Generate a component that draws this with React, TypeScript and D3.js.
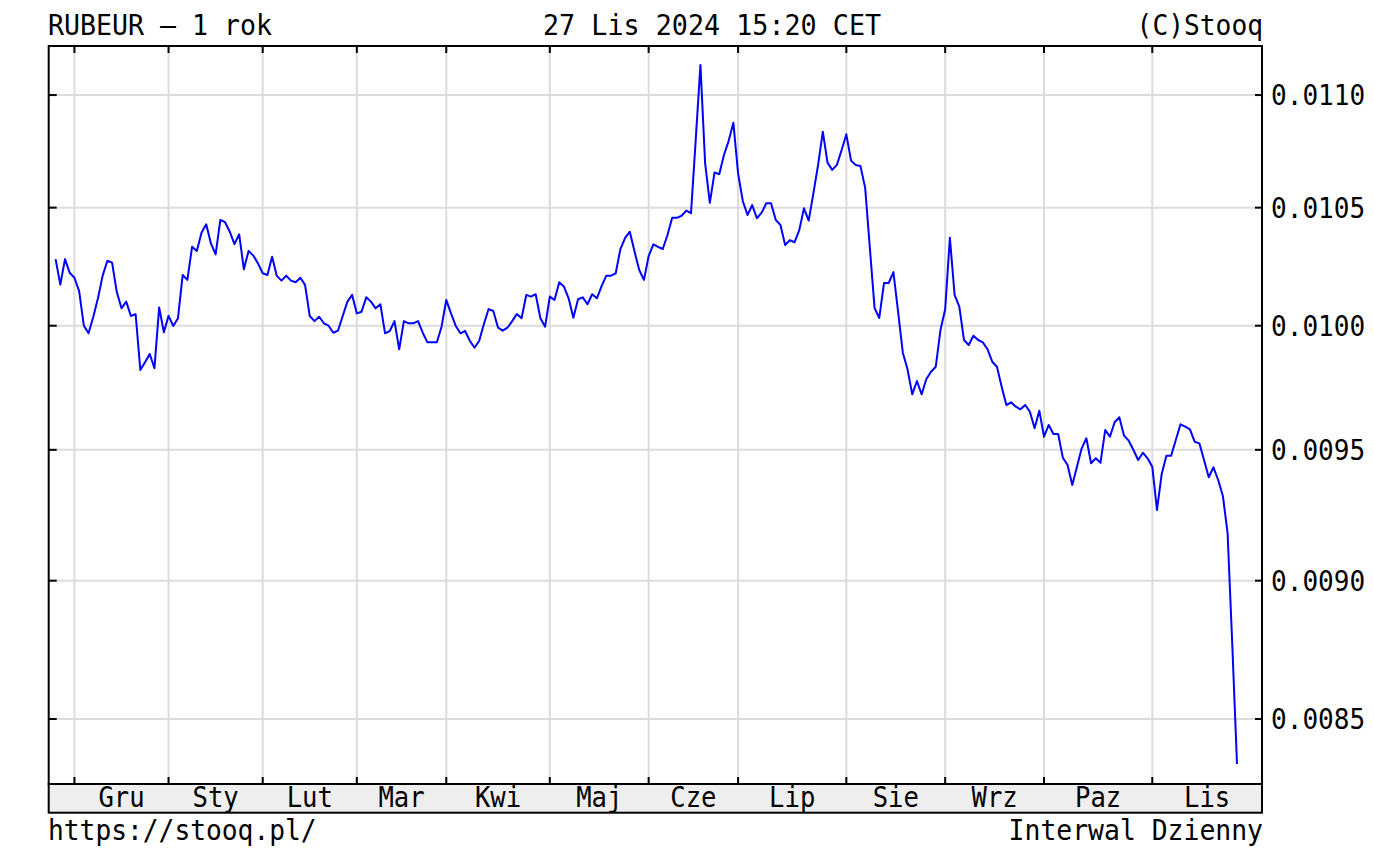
import React from "react";
import * as d3 from "d3";

// ---- data ----
const values: number[] = [
  0.010279, 0.010171, 0.010279, 0.010221, 0.0102, 0.010144, 0.01, 0.0099686, 0.010036, 0.010114,
  0.010209, 0.010272, 0.010264, 0.01014, 0.010072, 0.0101, 0.01004, 0.010048, 0.0098186, 0.0098499,
  0.0098838, 0.0098255, 0.010076, 0.0099728, 0.010041, 0.0099988, 0.010031, 0.010212, 0.010191, 0.010332,
  0.010314, 0.010392, 0.010428, 0.010346, 0.010299, 0.010447, 0.010437, 0.010396, 0.010343, 0.010385,
  0.010236, 0.010314, 0.010294, 0.010261, 0.010219, 0.010212, 0.010289, 0.010208, 0.010188, 0.010209,
  0.010188, 0.010181, 0.0102, 0.01017, 0.01004, 0.010019, 0.010037, 0.01001, 0.01, 0.0099711,
  0.0099794, 0.01004, 0.0101, 0.010128, 0.010051, 0.010058, 0.010118, 0.0101, 0.010072, 0.010089,
  0.0099686, 0.0099781, 0.010019, 0.009903, 0.010019, 0.01001, 0.01001, 0.010019, 0.0099711, 0.0099316,
  0.0099316, 0.0099316, 0.0099959, 0.010107, 0.010051, 0.01, 0.0099686, 0.0099781, 0.009938, 0.0099095,
  0.009938, 0.010007, 0.010069, 0.010061, 0.0099917, 0.0099794, 0.0099917, 0.010019, 0.010048, 0.010031,
  0.010128, 0.010121, 0.010131, 0.010031, 0.0099959, 0.010121, 0.010107, 0.010181, 0.010163, 0.010114,
  0.010033, 0.01011, 0.010118, 0.010089, 0.010131, 0.010114, 0.010165, 0.010209, 0.010209, 0.010219,
  0.010322, 0.01037, 0.010396, 0.010311, 0.010233, 0.010191, 0.010292, 0.010342, 0.010331, 0.010322,
  0.010382, 0.010456, 0.010456, 0.010465, 0.010487, 0.010476, 0.010798, 0.011138, 0.010694, 0.010521,
  0.010654, 0.010646, 0.010731, 0.010794, 0.010875, 0.01065, 0.010529, 0.010468, 0.010511, 0.010454,
  0.010478, 0.010519, 0.010519, 0.010447, 0.010425, 0.010339, 0.01036, 0.010351, 0.010403, 0.010497,
  0.010444, 0.010562, 0.010687, 0.010835, 0.010697, 0.010665, 0.010687, 0.010753, 0.010823, 0.010706,
  0.010687, 0.010682, 0.010586, 0.010326, 0.010073, 0.010032, 0.010178, 0.010178, 0.010224, 0.010057,
  0.009889, 0.0098214, 0.0097205, 0.0097741, 0.0097205, 0.0097822, 0.0098117, 0.009832, 0.0099822, 0.010068,
  0.01037, 0.010128, 0.010079, 0.0099411, 0.0099206, 0.0099588, 0.0099411, 0.0099316, 0.009903, 0.0098523,
  0.009832, 0.009751, 0.0096776, 0.0096885, 0.0096708, 0.0096604, 0.0096776, 0.0096508, 0.0095849, 0.0096549,
  0.0095517, 0.009598, 0.0095623, 0.0095623, 0.0094691, 0.0094406, 0.0093629, 0.009434, 0.009506, 0.0095454,
  0.0094473, 0.0094668, 0.0094496, 0.0095781, 0.0095517, 0.0096087, 0.0096286, 0.0095557, 0.009536, 0.0094994,
  0.0094601, 0.0094888, 0.0094668, 0.009434, 0.0092667, 0.0094056, 0.009477, 0.009477, 0.0095387, 0.0096008,
  0.0095912, 0.009581, 0.009532, 0.0095256, 0.0094601, 0.0093928, 0.0094317, 0.0093823, 0.0093205, 0.009179,
  0.0087639, 0.0083433,
];

const monthLabels: string[] = ["Gru", "Sty", "Lut", "Mar", "Kwi", "Maj", "Cze", "Lip", "Sie", "Wrz", "Paz", "Lis"];
const monthStartIndex: number[] = [4, 24, 44, 64, 83, 105, 126, 145, 168, 189, 210, 233];
const yTickValues: number[] = [0.0085, 0.009, 0.0095, 0.01, 0.0105, 0.011];
const yDomain: [number, number] = [0.0082747, 0.0112253];

const titleLeft = "RUBEUR \u2013 1 rok";
const titleCenter = "27 Lis 2024 15:20 CET";
const titleRight = "(C)Stooq";
const footerLeft = "https://stooq.pl/";
const footerRight = "Interwal Dzienny";

// ---- layout ----
const W = 1374;
const H = 852;
const L = 48.7;
const R = 1262;
const T = 46;
const B = 784;
const BAND = 812.7;
const X0 = 55.6;
const X1 = 1237;
const FONT = "'DejaVu Sans Mono', monospace";
const FS = 28;
const CW = 15.7;

function T_(props: { x: number; y: number; text: string; anchor?: "start" | "middle" | "end"; cw?: number }) {
  const cw = props.cw ?? CW;
  return (
    <text
      x={props.x}
      y={props.y}
      textAnchor={props.anchor ?? "start"}
      fontFamily={FONT}
      fontSize={FS}
      fill="#000"
      textLength={props.text.length * cw}
      lengthAdjust="spacingAndGlyphs"
    >
      {props.text}
    </text>
  );
}

export default function App() {
  const x = d3.scaleLinear().domain([0, values.length - 1]).range([X0, X1]);
  const y = d3.scaleLog().domain(yDomain).range([B, T]);
  const line = d3
    .line<number>()
    .x((_, i) => x(i))
    .y((d) => y(d));
  const fmt = d3.format(".4f");
  const monthX = monthStartIndex.map((i) => x(i));

  return (
    <svg
      width={W}
      height={H}
      viewBox={`0 0 ${W} ${H}`}
      style={{ position: "absolute", left: 0, top: 0, background: "#fff" }}
    >
      <rect x={0} y={0} width={W} height={H} fill="#fff" />
      {/* grid */}
      {yTickValues.map((v) => (
        <line key={"gy" + v} x1={L} x2={R} y1={y(v)} y2={y(v)} stroke="#dcdcdc" strokeWidth={2} />
      ))}
      {monthX.map((mx, i) => (
        <line key={"gx" + i} x1={mx} x2={mx} y1={T} y2={B} stroke="#dcdcdc" strokeWidth={2} />
      ))}
      {/* series */}
      <path d={line(values) ?? ""} fill="none" stroke="#0000ff" strokeWidth={2} strokeLinejoin="round" />
      {/* ticks */}
      {yTickValues.map((v) => (
        <g key={"ty" + v}>
          <line x1={L} x2={L + 8} y1={y(v)} y2={y(v)} stroke="#000" strokeWidth={2} />
          <line x1={R - 7} x2={R} y1={y(v)} y2={y(v)} stroke="#000" strokeWidth={2} />
        </g>
      ))}
      {monthX.map((mx, i) => (
        <g key={"tx" + i}>
          <line x1={mx} x2={mx} y1={T} y2={T + 7} stroke="#000" strokeWidth={2} />
          <line x1={mx} x2={mx} y1={B - 7} y2={B} stroke="#000" strokeWidth={2} />
        </g>
      ))}
      {/* frame */}
      <rect x={L} y={T} width={R - L} height={B - T} fill="none" stroke="#000" strokeWidth={2} />
      <rect x={L} y={B} width={R - L} height={BAND - B} fill="#eeeeee" stroke="#000" strokeWidth={2} />
      {/* month labels */}
      {monthLabels.map((m, i) => {
        const a = monthX[i];
        const b = i + 1 < monthX.length ? monthX[i + 1] : R;
        return <T_ key={"m" + i} x={(a + b) / 2} y={806.5} text={m} anchor="middle" cw={15.4} />;
      })}
      {/* y labels */}
      {yTickValues.map((v) => (
        <T_ key={"yl" + v} x={1271} y={y(v) + 10} text={fmt(v)} cw={15.7} />
      ))}
      {/* titles */}
      <T_ x={48} y={34.5} text={titleLeft} cw={16} />
      <T_ x={543} y={34.5} text={titleCenter} cw={16.1} />
      <T_ x={1263} y={34.5} text={titleRight} anchor="end" cw={15.8} />
      <T_ x={48} y={840} text={footerLeft} cw={15.8} />
      <T_ x={1263} y={840} text={footerRight} anchor="end" cw={15.9} />
    </svg>
  );
}
